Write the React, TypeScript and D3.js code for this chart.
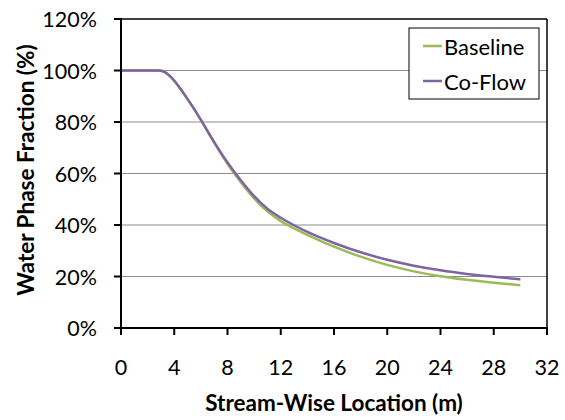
import React from "react";
import * as d3 from "d3";

const xs = [0, 1, 2, 2.8, 3.2, 3.5, 4, 4.5, 5, 5.5, 6, 7, 8, 9, 10, 11, 12, 13, 14, 16, 18, 20, 22, 24, 26, 28, 30];
const baseline = [100, 100, 100, 100, 99.6, 98.6, 96.0, 92.6, 88.9, 85.0, 80.8, 72.0, 63.8, 56.6, 50.3, 45.3, 41.5, 38.7, 36.2, 31.6, 27.7, 24.5, 22.0, 20.1, 18.7, 17.6, 16.6];
const coflow = [100, 100, 100, 100, 99.6, 98.6, 96.0, 92.6, 88.9, 85.0, 80.8, 72.2, 64.3, 57.4, 51.2, 46.3, 42.8, 39.9, 37.3, 33.0, 29.4, 26.5, 24.2, 22.4, 21.0, 19.9, 18.9];
const xTicks = [0, 4, 8, 12, 16, 20, 24, 28, 32];
const yTicks = [0, 20, 40, 60, 80, 100, 120];
const seriesNames = ["Baseline", "Co-Flow"];
const seriesColors = ["#9BBB59", "#8064A2"];

const FONT = "Lato, 'Open Sans', sans-serif";

export default function App() {
  const x = d3.scaleLinear().domain([0, 32]).range([121, 547]);
  const y = d3.scaleLinear().domain([0, 120]).range([328, 19]);
  const line = d3
    .line<[number, number]>()
    .x((d) => x(d[0]))
    .y((d) => y(d[1]))
    .curve(d3.curveMonotoneX);
  const series = [baseline, coflow];

  return (
    <svg
      width={565}
      height={420}
      style={{ position: "absolute", left: 0, top: 0, background: "#fff" }}
      fontFamily={FONT}
    >
      {yTicks.slice(1, -1).map((t) => (
        <line key={"g" + t} x1={x(0)} x2={x(32)} y1={y(t)} y2={y(t)} stroke="#8c8c8c" strokeWidth={1} />
      ))}
      <line x1={x(0)} x2={x(32)} y1={y(120)} y2={y(120)} stroke="#000" strokeWidth={1.5} />
      <line x1={x(32)} x2={x(32)} y1={y(120)} y2={y(0)} stroke="#000" strokeWidth={1.5} />
      {series.map((s, i) => (
        <path
          key={seriesNames[i]}
          d={line(xs.map((v, j) => [v, s[j]] as [number, number])) || ""}
          fill="none"
          stroke={seriesColors[i]}
          strokeWidth={2.5}
          strokeLinejoin="round"
        />
      ))}
      <line x1={x(0)} x2={x(0)} y1={y(120) - 1} y2={y(0) + 1} stroke="#000" strokeWidth={2} />
      <line x1={x(0) - 1} x2={x(32) + 1} y1={y(0)} y2={y(0)} stroke="#000" strokeWidth={2} />
      {yTicks.map((t) => (
        <g key={"y" + t}>
          <line x1={x(0) - 7} x2={x(0)} y1={y(t)} y2={y(t)} stroke="#000" strokeWidth={2} />
          <text x={97} y={y(t)} textAnchor="end" dominantBaseline="central" fontSize={21.5} fill="#000">
            {t + "%"}
          </text>
        </g>
      ))}
      {xTicks.map((t) => (
        <g key={"x" + t}>
          <line x1={x(t)} x2={x(t)} y1={y(0)} y2={y(0) + 7} stroke="#000" strokeWidth={2} />
          <text x={x(t)} y={367} textAnchor="middle" dominantBaseline="central" fontSize={21.5} fill="#000">
            {t}
          </text>
        </g>
      ))}
      <text x={334} y={402} textAnchor="middle" dominantBaseline="central" fontSize={22.5} fontWeight="bold" fill="#000">
        Stream-Wise Location (m)
      </text>
      <text
        transform={`translate(25,170) rotate(-90)`}
        textAnchor="middle"
        dominantBaseline="central"
        fontSize={22.5}
        fontWeight="bold"
        fill="#000"
      >
        Water Phase Fraction (%)
      </text>
      <rect x={409} y={28} width={130} height={71} fill="#fff" stroke="#000" strokeWidth={1} />
      {seriesNames.map((n, i) => (
        <g key={"l" + n}>
          <line x1={423} x2={442} y1={46 + i * 35} y2={46 + i * 35} stroke={seriesColors[i]} strokeWidth={2.5} />
          <text x={444} y={46 + i * 35} dominantBaseline="central" fontSize={22} fill="#000">
            {n}
          </text>
        </g>
      ))}
    </svg>
  );
}
